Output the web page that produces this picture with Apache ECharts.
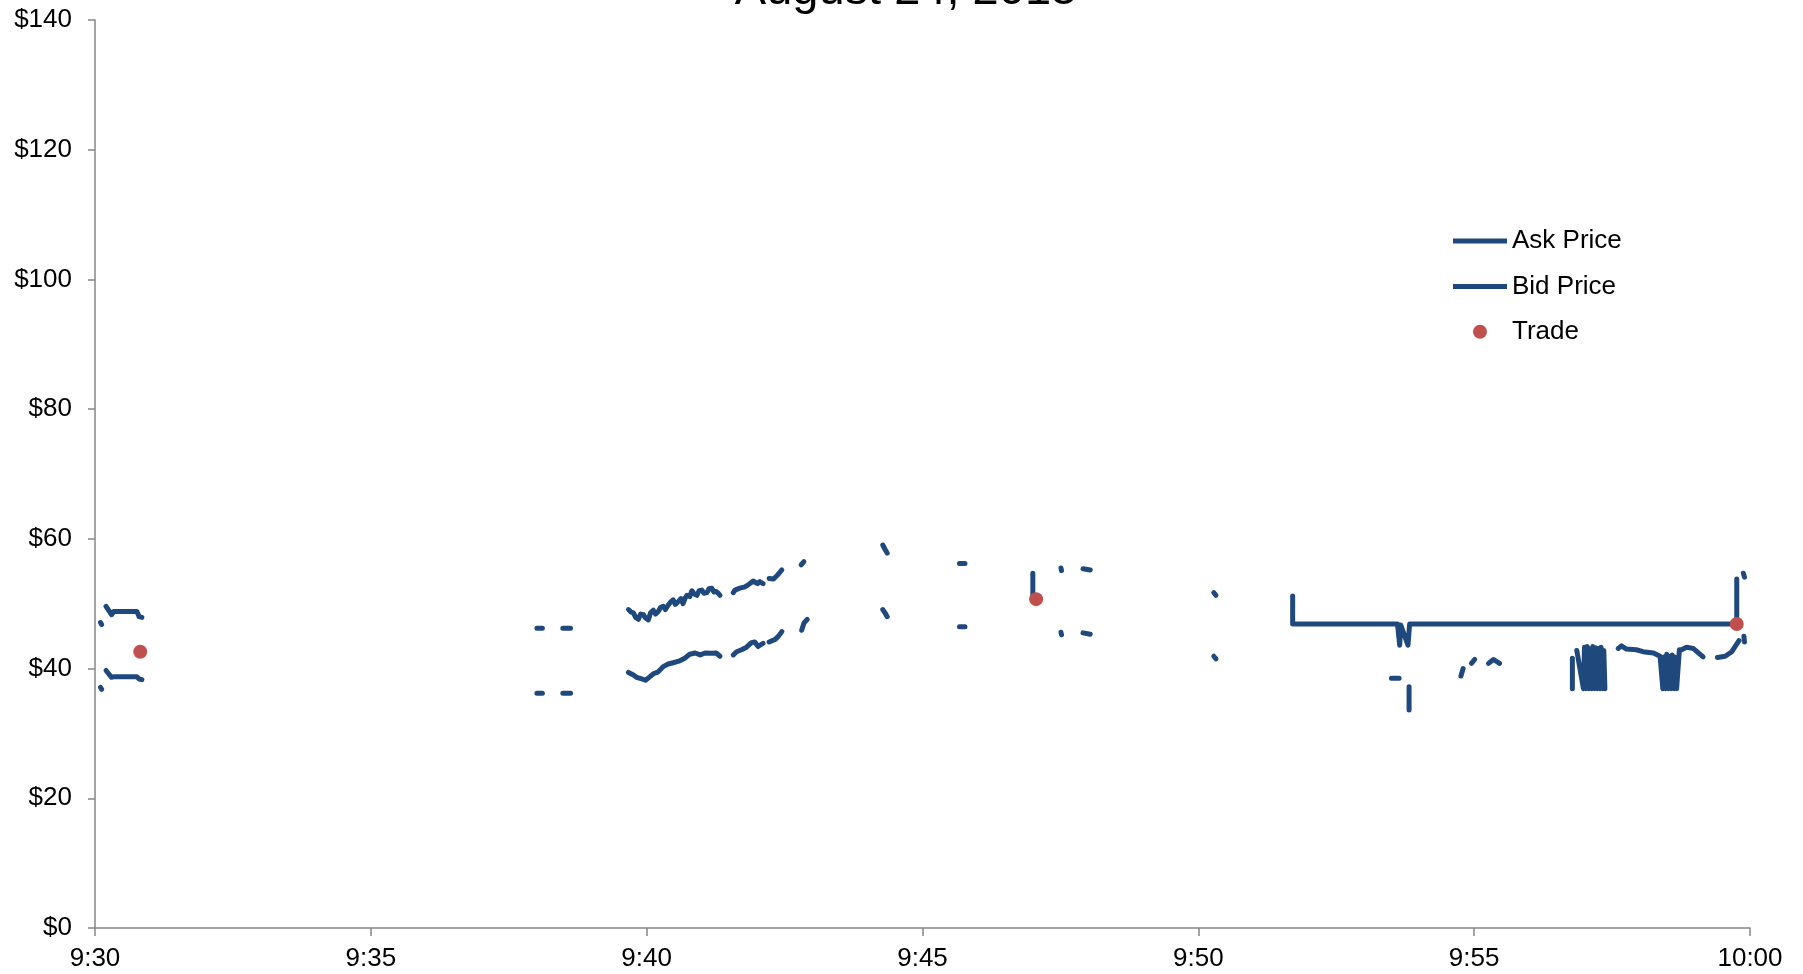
<!DOCTYPE html>
<html>
<head>
<meta charset="utf-8">
<style>html,body{margin:0;padding:0;background:#fff;}#chart{width:1803px;height:974px;}</style>
<script src="https://cdn.jsdelivr.net/npm/echarts@6/dist/echarts.min.js"></script>
</head>
<body>
<div id="chart"></div>
<script>
// x values: minutes after 9:30
const xTickLabels = ['9:30', '9:35', '9:40', '9:45', '9:50', '9:55', '10:00'];
const yTickLabels = ['$0', '$20', '$40', '$60', '$80', '$100', '$120', '$140'];
const seriesNames = ['Ask Price', 'Bid Price', 'Trade'];

const askPrice = [
  [0.10, 47.1], [0.12, 46.8], null,
  [0.20, 49.6], [0.30, 48.3], [0.34, 48.8], [0.76, 48.8], [0.80, 48.0], [0.85, 47.9], null,
  [8.01, 46.2], [8.11, 46.2], null,
  [8.48, 46.2], [8.62, 46.2], null,
  [9.67, 49.1], [9.72, 48.7], [9.76, 48.6], [9.80, 47.9], [9.85, 47.6], [9.89, 48.4], [9.94, 48.3], [9.98, 47.8],
  [10.03, 47.5], [10.07, 48.6], [10.12, 49.0], [10.16, 48.4], [10.21, 48.8], [10.25, 49.4], [10.30, 49.6],
  [10.34, 49.1], [10.39, 49.8], [10.43, 50.2], [10.48, 50.6], [10.52, 49.9], [10.57, 50.3], [10.62, 50.8],
  [10.66, 50.0], [10.70, 50.9], [10.73, 51.3], [10.78, 51.1], [10.82, 52.0], [10.86, 51.5], [10.91, 51.3],
  [10.95, 52.0], [11.00, 52.1], [11.04, 51.6], [11.09, 51.7], [11.13, 52.3], [11.18, 52.4], [11.22, 51.8],
  [11.26, 51.9], [11.30, 51.6], [11.33, 51.3], null,
  [11.57, 51.7], [11.60, 52.1], [11.69, 52.4], [11.78, 52.6], [11.84, 52.9], [11.93, 53.5], [12.01, 53.1],
  [12.05, 53.4], [12.11, 53.1], null,
  [12.22, 53.9], [12.30, 53.8], [12.36, 54.3], [12.45, 55.2], null,
  [12.80, 56.0], [12.85, 56.5], null,
  [14.28, 59.05], [14.32, 58.4], [14.36, 57.8], null,
  [15.67, 56.2], [15.77, 56.2], null,
  [17.00, 54.7], [17.00, 50.8], null,
  [17.51, 55.5], [17.52, 55.1], null,
  [17.91, 55.4], [18.04, 55.2], null,
  [20.28, 51.7], [20.32, 51.3], null,
  [21.71, 51.2], [21.71, 46.87], [23.61, 46.87], [23.65, 43.6], [23.67, 46.7], [23.80, 43.6], [23.83, 46.87],
  [29.76, 46.87], [29.76, 53.8], null,
  [29.88, 54.7], [29.90, 54.1]
];

const bidPrice = [
  [0.10, 37.1], [0.12, 36.8], null,
  [0.20, 39.7], [0.30, 38.65], [0.34, 38.75], [0.76, 38.75], [0.80, 38.4], [0.85, 38.3], null,
  [8.01, 36.2], [8.11, 36.2], null,
  [8.48, 36.2], [8.62, 36.2], null,
  [9.67, 39.4], [9.76, 39.0], [9.82, 38.65], [9.91, 38.4], [9.98, 38.2], [10.06, 38.75], [10.12, 39.2],
  [10.21, 39.5], [10.30, 40.3], [10.39, 40.7], [10.48, 40.9], [10.60, 41.2], [10.69, 41.6], [10.78, 42.2],
  [10.88, 42.4], [10.97, 42.1], [11.06, 42.4], [11.18, 42.35], [11.26, 42.4], [11.33, 41.9], null,
  [11.57, 42.1], [11.63, 42.6], [11.72, 42.9], [11.81, 43.3], [11.90, 44.0], [11.96, 44.1], [12.02, 43.4],
  [12.11, 43.9], null,
  [12.22, 44.1], [12.33, 44.5], [12.39, 45.0], [12.45, 45.7], null,
  [12.81, 45.9], [12.85, 47.0], [12.91, 47.6], null,
  [14.28, 49.1], [14.32, 48.6], [14.36, 48.0], null,
  [15.67, 46.45], [15.77, 46.45], null,
  [17.51, 45.6], [17.52, 45.2], null,
  [17.91, 45.5], [18.04, 45.3], null,
  [20.28, 41.9], [20.32, 41.5], null,
  [23.50, 38.5], [23.64, 38.5], null,
  [23.82, 37.2], [23.82, 33.6], null,
  [24.76, 38.85], [24.80, 40.0], null,
  [24.95, 40.8], [25.01, 41.4], null,
  [25.26, 40.8], [25.35, 41.4], [25.46, 40.8], null,
  [26.78, 41.6], [26.78, 36.9], null,
  [26.86, 42.8], [26.98, 36.9], [27.00, 43.3], [27.03, 36.9], [27.05, 43.4], [27.08, 36.9], [27.10, 43.0],
  [27.13, 36.9], [27.15, 43.4], [27.18, 36.9], [27.20, 43.2], [27.23, 36.9], [27.25, 43.1], [27.28, 36.9],
  [27.30, 43.3], [27.33, 36.9], [27.35, 42.8], [27.37, 36.9], null,
  [27.61, 43.1], [27.67, 43.5], [27.76, 43.0], [27.94, 42.9], [28.06, 42.6], [28.25, 42.4], [28.37, 41.9],
  [28.40, 42.0], [28.42, 36.9], [28.44, 41.8], [28.47, 36.9], [28.49, 42.2], [28.52, 36.9], [28.54, 41.9],
  [28.57, 36.9], [28.59, 42.1], [28.62, 36.9], [28.64, 41.8], [28.67, 36.9], [28.70, 36.9], [28.72, 42.9],
  [28.76, 42.9], [28.85, 43.3], [28.97, 43.1], [29.15, 41.8], null,
  [29.41, 41.7], [29.55, 41.9], [29.67, 42.6], [29.80, 44.3], null,
  [29.89, 45.0], [29.90, 44.1]
];

const trades = [[0.82, 42.6], [17.06, 50.7], [29.76, 46.87]];

const chart = echarts.init(document.getElementById('chart'), null, { renderer: 'canvas' });
const FONT = 'Liberation Sans, Arial, sans-serif';
const BLUE = '#1F497D';
const RED = '#C0504D';
const AXIS = '#868686';
const LINE_ICON = 'path://M0,0 L54,0 L54,5 L0,5 Z';

const lineStyle = { color: BLUE, width: 5, cap: 'round', join: 'round' };

chart.setOption({
  animation: false,
  backgroundColor: '#fff',
  textStyle: { fontFamily: FONT },
  graphic: [{
    type: 'text',
    x: 906, y: -9,
    style: { text: 'August 24, 2015', fontSize: 47, fontFamily: FONT, fill: '#000', align: 'center', verticalAlign: 'middle' }
  }],
  grid: { left: 95, right: 53, top: 20, bottom: 46, containLabel: false },
  legend: {
    data: [
      { name: seriesNames[0], icon: LINE_ICON },
      { name: seriesNames[1], icon: LINE_ICON },
      { name: seriesNames[2], icon: 'circle' }
    ],
    orient: 'vertical',
    left: 1453, top: 228,
    itemWidth: 54, itemHeight: 14, itemGap: 19.4,
    padding: 0,
    textStyle: { fontSize: 26, color: '#000', fontFamily: FONT }
  },
  xAxis: {
    type: 'value', min: 0, max: 30, interval: 5,
    axisLine: { lineStyle: { color: AXIS, width: 1.5 } },
    axisTick: { show: true, inside: false, length: 8, lineStyle: { color: AXIS, width: 1.5 } },
    axisLabel: { fontSize: 26, color: '#000', margin: 18, fontFamily: FONT,
      formatter: v => xTickLabels[Math.round(v / 5)] },
    splitLine: { show: false }
  },
  yAxis: {
    type: 'value', min: 0, max: 140, interval: 20,
    axisLine: { show: true, lineStyle: { color: AXIS, width: 1.5 } },
    axisTick: { show: true, inside: false, length: 7, lineStyle: { color: AXIS, width: 1.5 } },
    axisLabel: { fontSize: 26, color: '#000', margin: 23, fontFamily: FONT,
      formatter: v => yTickLabels[Math.round(v / 20)] },
    splitLine: { show: false }
  },
  series: [
    { name: seriesNames[0], type: 'line', data: askPrice, symbol: 'none', connectNulls: false,
      lineStyle: lineStyle, itemStyle: { color: BLUE } },
    { name: seriesNames[1], type: 'line', data: bidPrice, symbol: 'none', connectNulls: false,
      lineStyle: lineStyle, itemStyle: { color: BLUE } },
    { name: seriesNames[2], type: 'scatter', data: trades, symbol: 'circle', symbolSize: 14,
      itemStyle: { color: RED, opacity: 1 }, z: 5 }
  ]
});
</script>
</body>
</html>
